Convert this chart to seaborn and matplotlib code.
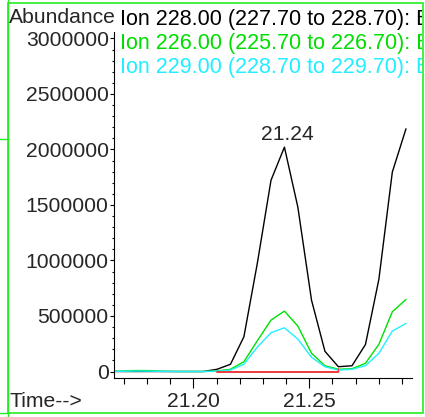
import pandas as pd
import matplotlib
matplotlib.use('Agg')
import matplotlib.pyplot as plt
import seaborn as sns
from matplotlib.patches import Rectangle
from matplotlib.lines import Line2D
from matplotlib.transforms import Bbox, TransformedBbox
from matplotlib.ticker import MultipleLocator, FixedLocator, FormatStrFormatter

# scan times (min)
time = [21.1635, 21.1693, 21.1752, 21.1810, 21.1868, 21.1927, 21.1985, 21.2043,
        21.2102, 21.2160, 21.2218, 21.2276, 21.2335, 21.2393, 21.2451, 21.2510,
        21.2568, 21.2626, 21.2685, 21.2743, 21.2801, 21.2859, 21.2918]

ion228 = [0, 0, 0, 0, 0, 0, 0, 0,
          20000, 65000, 313000, 975000, 1722000, 2021000, 1481000, 643000,
          182000, 43000, 52000, 243000, 831000, 1796000, 2186000]
ion226 = [0, 4000, 9000, 8000, 2000, 0, 0, 0,
          5000, 20000, 88000, 277000, 463000, 544000, 409000, 164000,
          52000, 20000, 25000, 74000, 245000, 538000, 649000]
ion229 = [0, 2000, 4000, 3000, 1000, 0, 0, 0,
          3000, 13000, 65000, 220000, 349000, 394000, 292000, 128000,
          43000, 13000, 20000, 52000, 164000, 364000, 433000]

baseline_t = [21.2102, 21.2626]
baseline_y = [0, 0]

ion_labels = ['Ion 228.00 (227.70 to 228.70): Base',
              'Ion 226.00 (225.70 to 226.70): Base',
              'Ion 229.00 (228.70 to 229.70): Base']
peak_label = '21.24'

colors = {'228': '#000000', '226': '#00e000', '229': '#22eeff'}

df = pd.concat([
    pd.DataFrame({'time': time, 'abundance': ion228, 'ion': '228'}),
    pd.DataFrame({'time': time, 'abundance': ion226, 'ion': '226'}),
    pd.DataFrame({'time': time, 'abundance': ion229, 'ion': '229'}),
])

sns.set_style('ticks')
plt.rcParams['font.family'] = ['Liberation Sans', 'DejaVu Sans']
FS = 15.2

W, H = 425, 417
fig = plt.figure(figsize=(W / 100, H / 100), dpi=100)
ax = fig.add_axes([114 / W, 1 - 378 / H, (412 - 114) / W, (378 - 32) / H])

sns.lineplot(data=df, x='time', y='abundance', hue='ion', palette=colors,
             hue_order=['228', '226', '229'], estimator=None, legend=False,
             linewidth=1.0, ax=ax)
ax.plot(baseline_t, baseline_y, color='#ee3b3b', lw=1.4)
ax.plot([baseline_t[1]], [15000], marker='|', color='#ee3b3b', ms=3, mew=1)

ax.set_xlim(21.1657, 21.2944)
ax.set_ylim(-58500, 3058000)

ax.xaxis.set_major_locator(FixedLocator([21.20, 21.25]))
ax.xaxis.set_minor_locator(FixedLocator([21.17, 21.18, 21.19, 21.21, 21.22, 21.23,
                                         21.24, 21.26, 21.27, 21.28, 21.29]))
ax.xaxis.set_major_formatter(FormatStrFormatter('%.2f'))
ax.yaxis.set_major_locator(MultipleLocator(500000))
ax.yaxis.set_minor_locator(MultipleLocator(100000))
ax.ticklabel_format(axis='y', style='plain', useOffset=False)

ax.tick_params(axis='x', which='major', length=7.2, width=0.8, pad=3.2,
               labelsize=FS, direction='out', color='black')
ax.tick_params(axis='x', which='minor', length=4.3, width=0.8, direction='out', color='black')
ax.tick_params(axis='y', which='major', length=3, width=0.8, pad=0.8,
               labelsize=FS, direction='out', color='black')
ax.tick_params(axis='y', which='minor', length=1.5, width=0.8, direction='out', color='black')

for s in ['top', 'right']:
    ax.spines[s].set_visible(False)
for s in ['left', 'bottom']:
    ax.spines[s].set_linewidth(0.8)
    ax.spines[s].set_color('black')
ax.set_xlabel('')
ax.set_ylabel('')
ax.patch.set_alpha(0)

# label the first (apex) peak
first_half = ion228[:18]
i_peak = first_half.index(max(first_half))
ax.annotate(peak_label, (time[i_peak], ion228[i_peak]), xytext=(2, 5),
            textcoords='offset points', ha='center', va='baseline', fontsize=FS)

# header texts
fig.text(9 / W, 1 - 23 / H, 'Abundance', fontsize=FS, va='baseline', ha='left')
fig.text(9 / W, 1 - 407 / H, 'Time-->', fontsize=FS, va='baseline', ha='left')

clip = TransformedBbox(Bbox.from_extents(0, 0, 421.5 / W, 1), fig.transFigure)
for lab, y, c in zip(ion_labels, [25, 49, 73], ['#000000', '#00dd00', '#22eeff']):
    t = fig.text(120 / W, 1 - y / H, lab, fontsize=FS + 0.3, va='baseline', ha='left', color=c)
    t.set_clip_box(clip)
    t.set_clip_on(True)

# green frame
green = '#22ee22'
fig.add_artist(Rectangle((7.5 / W, 1 - 413 / H), (423 - 7.5) / W, (413 - 3) / H,
                         transform=fig.transFigure, fill=False, ec=green, lw=1.2))
fig.add_artist(Line2D([7.5 / W, 7.5 / W], [0, 1], transform=fig.transFigure, color=green, lw=1.0))
fig.add_artist(Line2D([0, 7.5 / W], [1 - 139 / H, 1 - 139 / H], transform=fig.transFigure, color=green, lw=1.0))
fig.add_artist(Line2D([0, 7.5 / W], [1 - 413 / H, 1 - 413 / H], transform=fig.transFigure, color=green, lw=1.0))

fig.savefig('out.png', dpi=100)
